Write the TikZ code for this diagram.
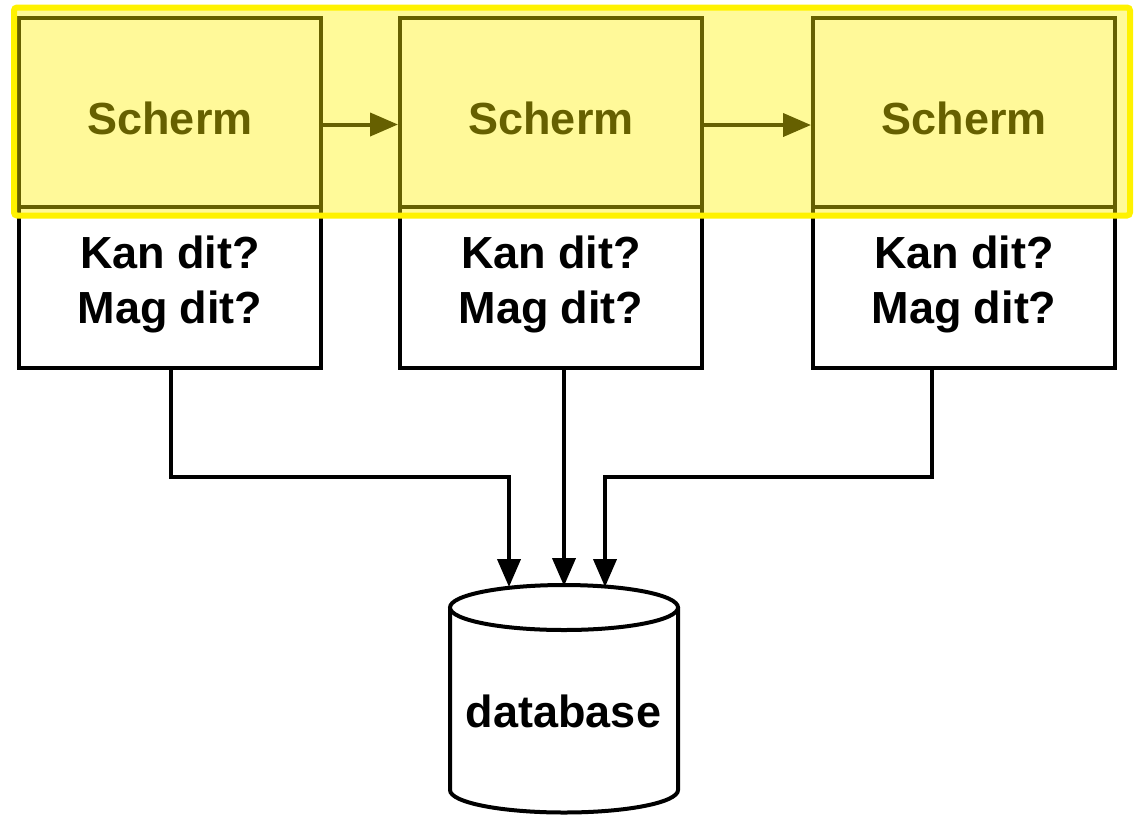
\documentclass[tikz,border=0pt]{standalone}
\usepackage{fontspec}
\setmainfont{Liberation Sans}
\usetikzlibrary{arrows.meta,calc}
\begin{document}
\begin{tikzpicture}[x=1pt,y=-1pt,
  line width=4pt,
  box/.style={draw=black, fill=white, minimum width=302pt, inner sep=0pt},
  screenbox/.style={box, minimum height=189pt},
  checkbox/.style={box, minimum height=161pt},
  lbl/.style={font=\fontsize{45}{55}\selectfont\bfseries, align=center, inner sep=0pt},
  arr/.style={-{Triangle[length=28pt,width=23pt]}, line width=4pt},
  band/.style={draw=yellow, line width=6pt, fill=yellow, fill opacity=0.4, rounded corners=3pt}
]
\useasboundingbox (0,0) rectangle (1137,815);

% three screens, each with its check underneath
\foreach \i/\x in {1/170, 2/551, 3/964} {
  \node[checkbox] (k\i) at (\x,287.5) {};
  \node[screenbox] (s\i) at (\x,112.5) {};
  \node[lbl] (st\i) at (\x,118) {Scherm};
  \node[lbl] (kt\i) at (\x,284) {Kan dit?\\Mag dit?};
}

% flow between the screens
\draw[arr] ($(s1.east)+(0,12)$) -- ($(s2.west)+(0,12)$);
\draw[arr] ($(s2.east)+(0,12.5)$) -- ($(s3.west)+(0,12.5)$);

% database cylinder
\draw[fill=white] (450,607.5) -- (450,790)
  arc[start angle=180, end angle=0, x radius=114, y radius=22.5] -- (678,607.5);
\draw[fill=white] (564,607.5) ellipse [x radius=114, y radius=22.5];
\node[lbl] (db) at (563.5,711.5) {database};
\coordinate (t1) at (509,587);
\coordinate (t2) at (564,586);
\coordinate (t3) at (605,587);

% every check consults the database
\draw[arr] ($(k1.south)+(1,0)$) |- ($(t1)+(0,-110)$) -- (t1);
\draw[arr] (k2.south -| t2) -- (t2);
\draw[arr] ($(k3.south)+(-32,0)$) |- ($(t3)+(0,-110)$) -- (t3);

% highlighted screen layer
\draw[band] (14,7.5) rectangle (1130,215.5);
\end{tikzpicture}
\end{document}
